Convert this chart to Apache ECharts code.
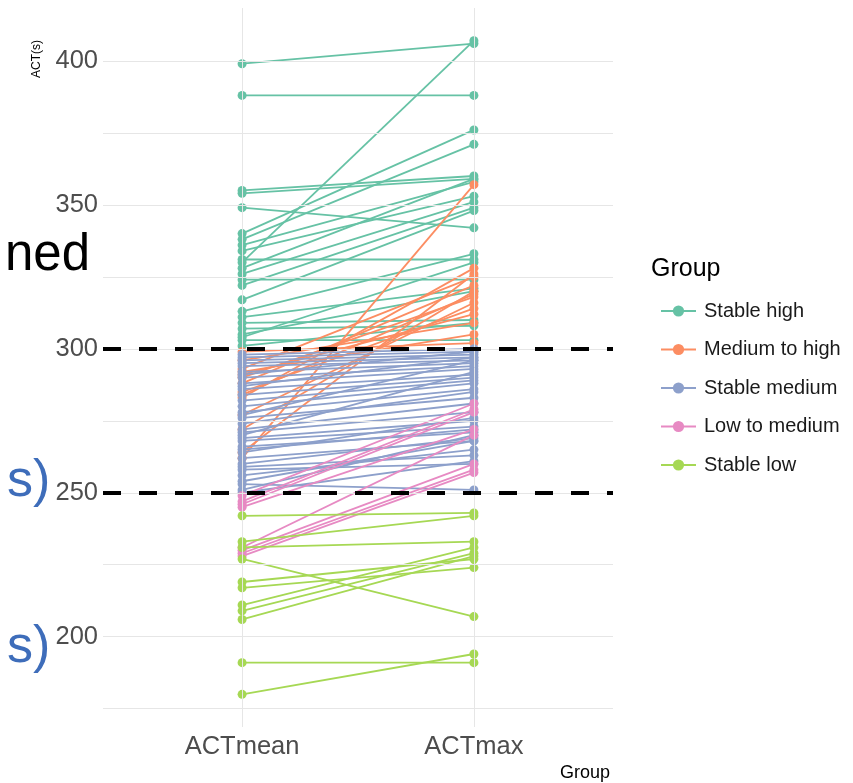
<!DOCTYPE html>
<html>
<head>
<meta charset="utf-8">
<script src="https://cdn.jsdelivr.net/npm/echarts@6/dist/echarts.min.js"></script>
<style>html,body{margin:0;padding:0;background:#fff;}#c{width:853px;height:783px;}</style>
</head>
<body>
<div id="c"></div>
<script>
// ---- data (ACTmean, ACTmax per subject) ----
const groupNames = ['Stable high', 'Medium to high', 'Stable medium', 'Low to medium', 'Stable low'];
const groupColors = ['#66C2A5', '#FC8D62', '#8DA0CB', '#E78AC3', '#A6D854'];
const xCategories = ['ACTmean', 'ACTmax'];
const yTickLabels = [200, 250, 300, 350, 400];
const yGridValues = [175, 200, 225, 250, 275, 300, 325, 350, 375, 400];
const thresholds = [300, 250];

const stableHighMean = [399, 388, 330, 355, 354, 349, 340, 338, 336, 334, 331, 328, 326, 324, 322, 317, 313, 311, 309, 307, 305, 303, 301, 304];
const stableHighMax  = [406, 388, 407, 360, 359, 342, 376, 371, 358, 353, 331, 359, 351, 324, 349, 348, 333, 321, 310, 308, 320, 303, 309, 330];

const medHighMean = [262, 264, 272, 277, 283, 284, 285, 290, 291, 292, 293, 299, 296, 288];
const medHighMax  = [357, 326, 320, 316, 328, 319, 314, 318, 312, 305, 325, 302, 309, 322];

const stableMedMean = [298, 297, 296, 295, 294, 292, 291, 290, 288, 287, 286, 284, 282, 280, 278, 277, 276, 274, 272, 271, 270, 269, 268, 266, 265, 264, 262, 260, 259, 258, 256, 254, 253, 251, 250];
const stableMedMax  = [300, 299, 298, 297, 296, 295, 299, 294, 293, 297, 291, 290, 289, 288, 286, 296, 283, 285, 281, 278, 292, 275, 273, 271, 272, 276, 268, 269, 263, 260, 265, 268, 251, 270, 261];

const lowMedMean = [249, 247, 246, 245, 231, 230, 229, 228];
const lowMedMax  = [281, 279, 278, 272, 270, 260, 258, 257];

const stableLowMean = [242, 233, 231, 227, 219, 217, 211, 209, 206, 191, 180];
const stableLowMax  = [243, 242, 233, 207, 227, 224, 231, 229, 228, 191, 194];

const groupMeans = [stableHighMean, medHighMean, stableMedMean, lowMedMean, stableLowMean];
const groupMaxes = [stableHighMax, medHighMax, stableMedMax, lowMedMax, stableLowMax];

// ---- build series ----
const series = [];
series.push({
  type: 'line', name: '_grid', data: [], silent: true, z: 1,
  markLine: {
    silent: true, symbol: 'none', animation: false,
    label: {show: false},
    lineStyle: {color: '#e6e6e6', width: 1, type: 'solid'},
    data: yGridValues.map(v => ({yAxis: v})).concat([{xAxis: 1}, {xAxis: 2}])
  }
});
groupNames.forEach((name, g) => {
  groupMeans[g].forEach((m, i) => {
    series.push({
      type: 'line', name: name, z: 2,
      data: [[1, m], [2, groupMaxes[g][i]]],
      color: groupColors[g],
      symbol: 'circle', symbolSize: 9,
      lineStyle: {width: 1.8},
      silent: true, animation: false
    });
  });
});
series.push({
  type: 'line', name: '_thr', data: [], silent: true, z: 5,
  markLine: {
    silent: true, symbol: 'none', animation: false,
    label: {show: false},
    lineStyle: {color: '#000', width: 4, type: [18, 18]},
    data: thresholds.map(v => ({yAxis: v}))
  }
});

const chart = echarts.init(document.getElementById('c'), null, {renderer: 'canvas'});
chart.setOption({
  animation: false,
  backgroundColor: '#fff',
  grid: {left: 103, right: 240, top: 8, bottom: 56, containLabel: false},
  xAxis: {
    type: 'value', min: 0.4, max: 2.6,
    axisLine: {show: false}, axisTick: {show: false}, splitLine: {show: false},
    axisLabel: {
      customValues: [1, 2],
      formatter: v => xCategories[Math.round(v) - 1] || '',
      fontSize: 25.5, color: '#4d4d4d', fontFamily: 'Liberation Sans', margin: 7
    }
  },
  yAxis: {
    type: 'value', min: 168.65, max: 418.35,
    axisLine: {show: false}, axisTick: {show: false}, splitLine: {show: false},
    axisLabel: {
      customValues: yTickLabels,
      formatter: v => String(v),
      fontSize: 25.5, color: '#4d4d4d', fontFamily: 'Liberation Sans', margin: 5
    }
  },
  legend: {
    orient: 'vertical', left: 655, top: 296,
    itemWidth: 35, itemHeight: 14, itemGap: 18.5,
    data: groupNames,
    textStyle: {fontSize: 20, color: '#1a1a1a', fontFamily: 'Liberation Sans', padding: [0, 0, 0, 3]},
    selectedMode: false
  },
  graphic: [
    {type: 'text', left: 651, top: 257, style: {text: 'Group', fontSize: 25, fill: '#000', fontFamily: 'Liberation Sans'}},
    {type: 'text', x: 37, y: 59, rotation: Math.PI / 2, style: {text: 'ACT(s)', fontSize: 12, fill: '#000', fontFamily: 'Liberation Sans', textAlign: 'center', textVerticalAlign: 'middle'}},
    {type: 'text', x: 585, y: 773, style: {text: 'Group', fontSize: 18, fill: '#000', fontFamily: 'Liberation Sans', textAlign: 'center', textVerticalAlign: 'middle'}},
    {type: 'text', x: 90, y: 256, style: {text: 'ned', fontSize: 51, fill: '#000', fontFamily: 'Liberation Sans', textAlign: 'right', textVerticalAlign: 'middle'}},
    {type: 'text', x: 7, y: 482, style: {text: 's)', fontSize: 52, fill: '#3E6DBA', fontFamily: 'Liberation Sans', textAlign: 'left', textVerticalAlign: 'middle'}},
    {type: 'text', x: 7, y: 648, style: {text: 's)', fontSize: 52, fill: '#3E6DBA', fontFamily: 'Liberation Sans', textAlign: 'left', textVerticalAlign: 'middle'}}
  ],
  series: series
});
</script>
</body>
</html>
